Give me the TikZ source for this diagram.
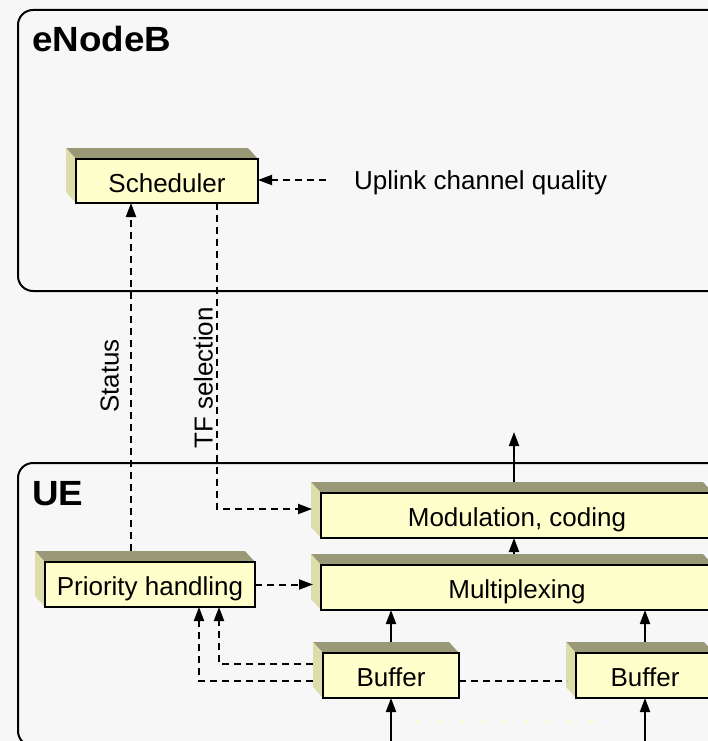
\documentclass[tikz,border=0pt]{standalone}
\usepackage{fontspec}
\setmainfont{Liberation Sans}
\usetikzlibrary{arrows.meta,calc}

\definecolor{pagebg}{HTML}{F7F7F7}
\definecolor{boxfront}{HTML}{FFFFCC}
\definecolor{boxtop}{HTML}{999977}
\definecolor{boxside}{HTML}{DDDDAA}
\definecolor{dotyellow}{HTML}{FFFFC4}

\pgfdeclarelayer{frame}
\pgfdeclarelayer{faces}
\pgfsetlayers{frame,faces,main}

% top and left faces of a raised block
\newcommand\boxfaces[1]{%
  \fill[boxtop] (#1.north west) -- ++(-10,-11) -- ($(#1.north east)+(-10,-11)$) -- (#1.north east) -- cycle;
  \fill[boxside] (#1.north west) -- ++(-10,-11) -- ($(#1.south west)+(-10,-11)$) -- (#1.south west) -- cycle;}

\tikzset{
  box3d/.style={draw=black, line width=2pt, fill=boxfront, minimum height=45pt,
    inner sep=0pt, outer sep=0pt, font=\fontsize{26}{30}\selectfont,
    text height=22pt, text depth=0pt},
  lbl/.style={inner sep=0pt, font=\fontsize{26}{30}\selectfont,
    text height=20pt, text depth=1pt},
  heading/.style={inner sep=0pt, font=\bfseries\fontsize{35}{40}\selectfont, xscale=1.05},
  container/.style={draw=black, line width=2pt, rounded corners=15pt, fill=pagebg},
  dashline/.style={line width=2pt, dash pattern=on 7pt off 5pt},
  dasharrow/.style={dashline, -{Triangle[length=14pt,width=10pt]}},
  solidarrow/.style={line width=2pt, -{Triangle[length=14pt,width=10pt]}},
  yellowdots/.style={draw=dotyellow, line width=3pt, dash pattern=on 3pt off 18.7pt},
}

\begin{document}
\begin{tikzpicture}[x=1pt, y=-1pt]
\useasboundingbox (0,0) rectangle (708,741);
\clip (0,0) rectangle (708,741);

\begin{pgfonlayer}{frame}
  \clip (0,0) rectangle (708,741);
  \fill[pagebg] (0,0) rectangle (708,741);
  \draw[container] (18,10) rectangle (770,291);
  \draw[container] (18,463) rectangle (770,746);
\end{pgfonlayer}

% group headings
\node[heading, anchor=base west] (enb) at (32,52) {eNodeB};
\node[heading, anchor=base west] (ue) at (32,505) {UE};

% blocks
\node[box3d, minimum width=182pt, minimum height=44pt] (sched) at (167,181) {Scheduler};
\node[box3d, minimum width=210pt] (prio) at (150,584.5) {Priority handling};
\node[box3d, minimum width=392pt] (mod) at (517,515.5) {Modulation, coding};
\node[box3d, minimum width=392pt] (mux) at (517,587.5) {Multiplexing};
\node[box3d, minimum width=136pt] (buf1) at (391,675.5) {Buffer};
\node[box3d, minimum width=138pt] (buf2) at (645,675.5) {Buffer};

\begin{pgfonlayer}{faces}
  \boxfaces{sched}
  \boxfaces{prio}
  \boxfaces{mod}
  \boxfaces{mux}
  \boxfaces{buf1}
  \boxfaces{buf2}
\end{pgfonlayer}

% labels
\node[lbl, anchor=west] (uplink) at (354,180) {Uplink channel quality};
\node[lbl, rotate=90] (status) at (109,376) {Status};
\node[lbl, rotate=90] (tfsel) at (203,378) {TF selection};

% control signalling
\draw[dasharrow] ($(uplink.west)+(-28,0)$) -- (uplink.west -| sched.east);
\coordinate (st) at ($(prio.north)+(-19,-11)$);
\draw[dasharrow] (st) -- (st |- sched.south);
\coordinate (tf) at ($(sched.south)+(50,0)$);
\draw[dasharrow] (tf) |- ($(mod.west)+(-9,-6.5)$);
\draw[dasharrow] (prio.east) -- ($(prio.east -| mux.west)+(-8,0)$);
\draw[dasharrow] ($(buf1.west)+(-10,-11.5)$) -| ($(prio.south)+(69,0)$);
\draw[dasharrow] ($(buf1.west)+(-10,5.5)$) -| ($(prio.south)+(49,0)$);
\draw[dashline] ($(buf1.east)+(0,5.5)$) -- ($(buf2.west)+(-9,5.5)$);

% data path
\coordinate (out) at ($(mod.north)+(-3,-61)$);
\draw[solidarrow] ($(mod.north)+(-3,-11)$) -- (out);
\draw[solidarrow] ($(mux.north)+(-3,-11)$) -- ($(mod.south)+(-3,0)$);
\draw[solidarrow] ($(buf1.north)+(0,-11)$) -- (buf1.north |- mux.south);
\draw[solidarrow] ($(buf2.north)+(0,-11)$) -- (buf2.north |- mux.south);
\coordinate (in1) at ($(buf1.south)+(0,50)$);
\coordinate (in2) at ($(buf2.south)+(0,50)$);
\draw[solidarrow] (in1) -- (buf1.south);
\draw[solidarrow] (in2) -- (buf2.south);
\draw[yellowdots] ($(buf1.south)+(25.5,23)$) -- ($(buf2.south)+(-33.5,23)$);
\end{tikzpicture}
\end{document}
